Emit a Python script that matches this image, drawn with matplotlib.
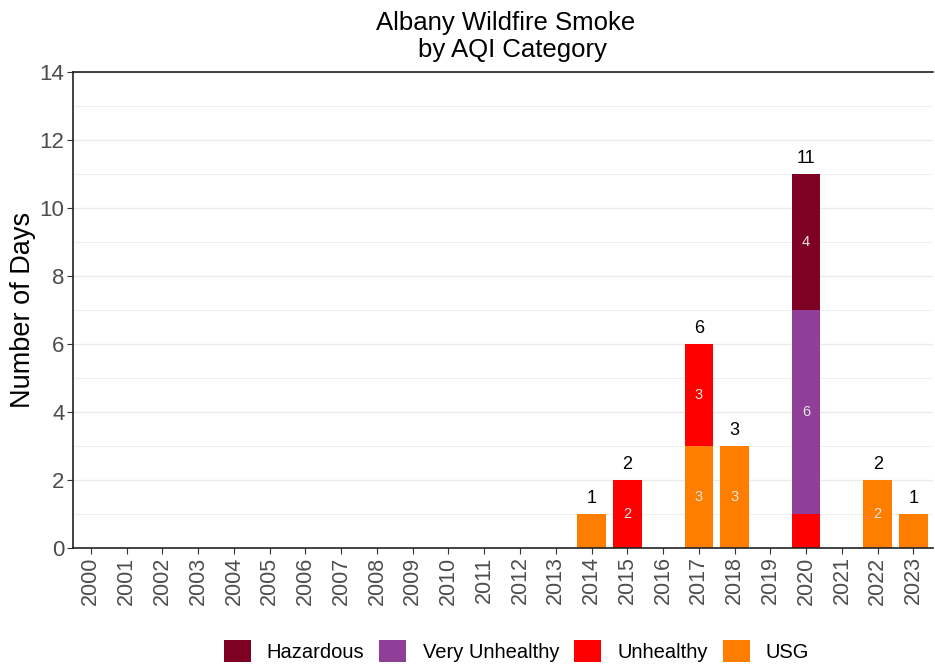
import numpy as np
import matplotlib.pyplot as plt
from matplotlib.patches import Patch
from matplotlib.ticker import MultipleLocator

plt.rcParams['font.family'] = ['Liberation Sans', 'DejaVu Sans']

years = list(range(2000, 2024))
usg = [0]*14 + [1, 0, 0, 3, 3, 0, 0, 0, 2, 1]
unhealthy = [0]*14 + [0, 2, 0, 3, 0, 0, 1, 0, 0, 0]
very_unhealthy = [0]*14 + [0, 0, 0, 0, 0, 0, 6, 0, 0, 0]
hazardous = [0]*14 + [0, 0, 0, 0, 0, 0, 4, 0, 0, 0]

cats = ['USG', 'Unhealthy', 'Very Unhealthy', 'Hazardous']
series = [usg, unhealthy, very_unhealthy, hazardous]
colors = ['#FF7E00', '#FF0000', '#8F3F97', '#7E0023']

fig = plt.figure(figsize=(9.35, 6.66), dpi=100)
ax = fig.add_axes([0.078, 0.177, 0.92, 0.715])

x = np.arange(len(years))
bottom = np.zeros(len(years))
for name, vals, col in zip(cats, series, colors):
    vals = np.array(vals, dtype=float)
    ax.bar(x, vals, 0.8, bottom=bottom, color=col, zorder=2)
    for i, v in enumerate(vals):
        if v >= 2:
            ax.text(x[i], bottom[i] + v / 2, f'{int(v)}', ha='center', va='center',
                    color='#E6E6E6', fontsize=10.5, zorder=3)
    bottom += vals

for i, t in enumerate(bottom):
    if t > 0:
        ax.text(x[i], t + 0.2, f'{int(t)}', ha='center', va='bottom',
                color='black', fontsize=13)

ax.set_xlim(-0.5, 23.55)
ax.set_ylim(0, 14)
ax.set_xticks(x)
ax.set_xticklabels([str(y) for y in years], rotation=90, fontsize=15.5, color='#4D4D4D')
ax.yaxis.set_major_locator(MultipleLocator(2))
ax.yaxis.set_minor_locator(MultipleLocator(1))
ax.tick_params(axis='y', which='major', labelsize=16, labelcolor='#4D4D4D', length=4,
               color='#333333', pad=2)
ax.tick_params(axis='y', which='minor', length=0)
ax.tick_params(axis='x', length=4, color='#333333', pad=2)
ax.grid(axis='y', which='major', color='#EBEBEB', linewidth=1.0, zorder=0)
ax.grid(axis='y', which='minor', color='#EBEBEB', linewidth=0.6, zorder=0)
ax.set_axisbelow(True)

ax.spines['right'].set_visible(False)
for s in ['left', 'top', 'bottom']:
    ax.spines[s].set_color('#222222')
    ax.spines[s].set_linewidth(1.2)

ax.set_ylabel('Number of Days', fontsize=19.5, color='black')
ax.yaxis.set_label_coords(-0.043, 0.5)
fig.text(506 / 935, 1 - 30 / 666, 'Albany Wildfire Smoke', ha='center', va='baseline',
         fontsize=18.5, color='black')
fig.text(512 / 935, 1 - 57 / 666, 'by AQI Category', ha='center', va='baseline',
         fontsize=18.5, color='black')

handles = [Patch(facecolor=c, label=n) for n, c in zip(cats[::-1], colors[::-1])]
fig.legend(handles=handles, loc='center', bbox_to_anchor=(0.5524, 0.0225), ncol=4,
           frameon=False, fontsize=14.5, handlelength=1.34, handleheight=1.34,
           handletextpad=0.8, columnspacing=0.75, borderpad=0, borderaxespad=0)

fig.savefig('out.png', dpi=100)
